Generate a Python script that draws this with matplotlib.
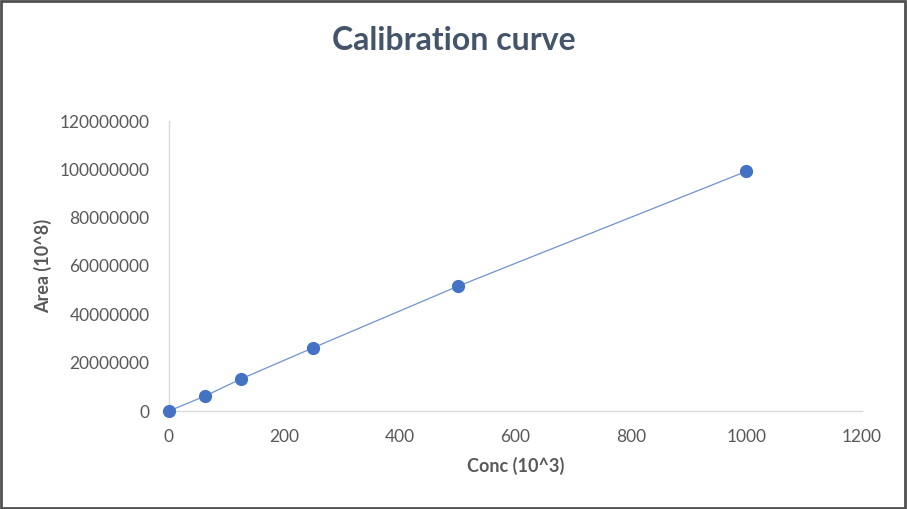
import matplotlib.pyplot as plt
from matplotlib.patches import Rectangle

# data
conc = [0, 62.5, 125, 250, 500, 1000]
area = [0, 6.2e6, 13.3e6, 26.2e6, 51.6e6, 99.2e6]
x_ticks = [0, 200, 400, 600, 800, 1000, 1200]
y_ticks = [0, 20000000, 40000000, 60000000, 80000000, 100000000, 120000000]

plt.rcParams['font.family'] = ['Lato', 'DejaVu Sans']

fig = plt.figure(figsize=(9.07, 5.09), dpi=100)
ax = fig.add_axes([169 / 907, 1 - 411 / 509, 693 / 907, 290 / 509])

ax.plot(conc, area, color='#6F93CF', lw=0.9, zorder=2)
ax.plot(conc, area, 'o', color='#4472C4', markersize=8.5, zorder=3, clip_on=False)

ax.set_xlim(0, 1200)
ax.set_ylim(0, 120000000)
ax.set_xticks(x_ticks)
ax.set_yticks(y_ticks)
ax.set_xticklabels([str(t) for t in x_ticks])
ax.set_yticklabels([str(t) for t in y_ticks])
ax.tick_params(length=0, labelsize=12.5, labelcolor='#595959')
ax.tick_params(axis='y', pad=14)
ax.tick_params(axis='x', pad=13)

for s in ['top', 'right']:
    ax.spines[s].set_visible(False)
for s in ['left', 'bottom']:
    ax.spines[s].set_color('#D9D9D9')
    ax.spines[s].set_linewidth(1)

fig.text(0.5, 1 - 40 / 509, 'Calibration curve', ha='center', va='center',
         fontsize=23, fontweight='bold', color='#44546A')
fig.text(516 / 907, 1 - 466 / 509, 'Conc (10^3)', ha='center', va='center',
         fontsize=13, fontweight='bold', color='#595959')
fig.text(43 / 907, 1 - 266 / 509, 'Area (10^8)', ha='center', va='center',
         rotation=90, fontsize=13, fontweight='bold', color='#595959')

# outer border
fig.patches.append(Rectangle((0.001, 0.002), 0.997, 0.996, transform=fig.transFigure,
                             fill=False, edgecolor='#505050', lw=2))

fig.savefig('out.png', dpi=100)
